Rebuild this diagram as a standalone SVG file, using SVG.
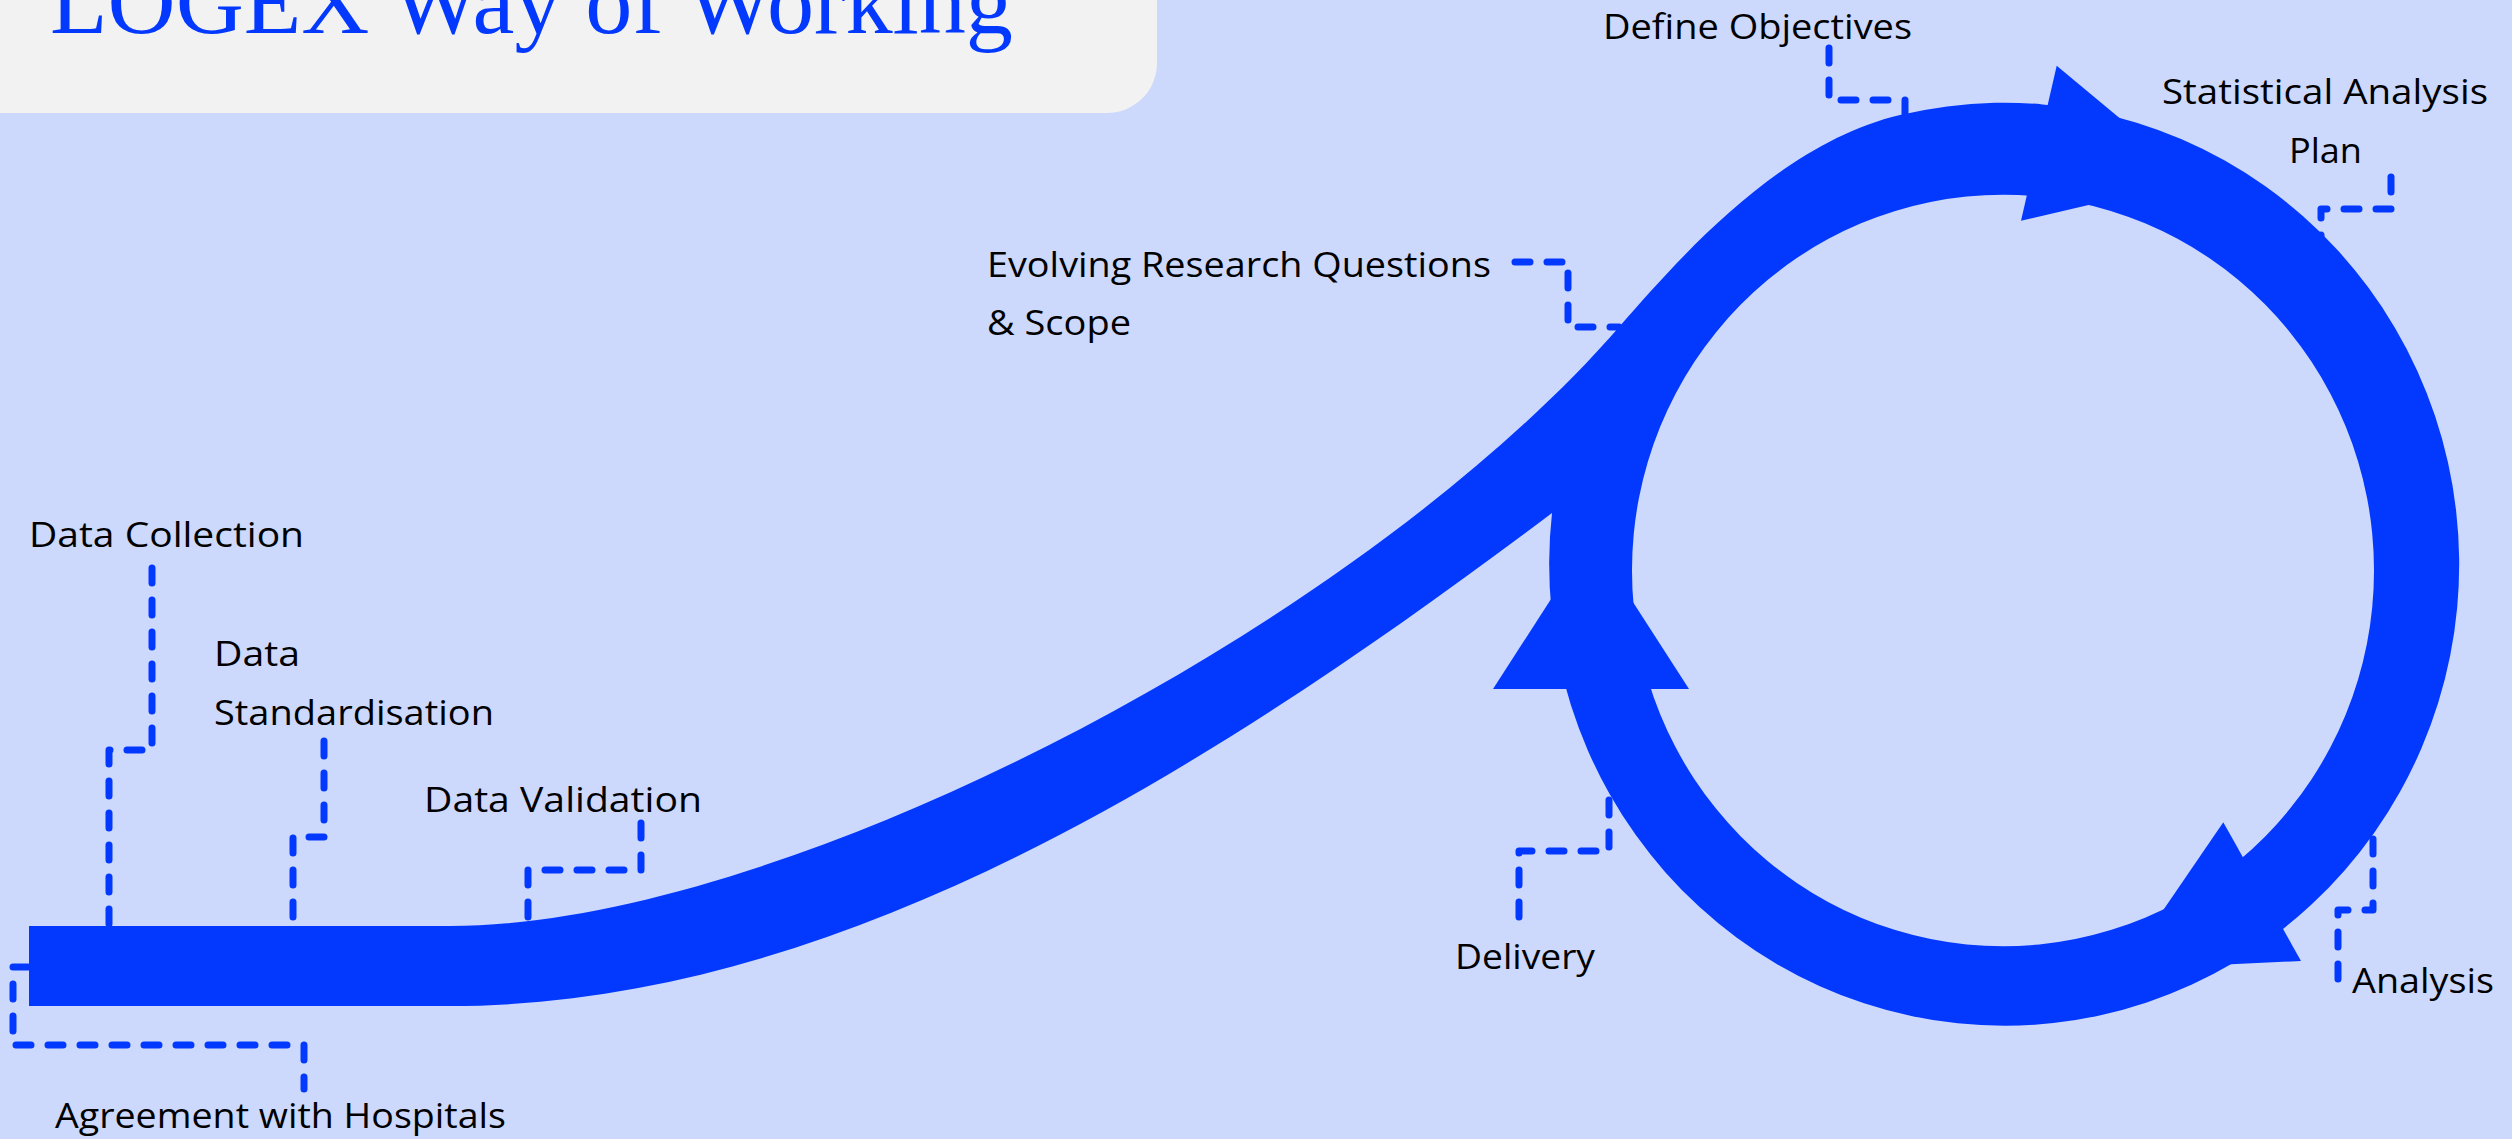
<svg xmlns="http://www.w3.org/2000/svg" width="2512" height="1139" viewBox="0 0 2512 1139">
<style>
.lbl{font-family:"Open Sans","Noto Sans","Liberation Sans",sans-serif;font-size:35px;fill:#000}
.lead{fill:none;stroke:#0339ff;stroke-width:7;stroke-linecap:round;stroke-linejoin:round;stroke-dasharray:15 17}
.flow{fill:#0339ff}
</style>
<rect width="2512" height="1139" fill="#ccd8fc"/>
<g id="title">
<path d="M0,0 H1157 V63 A50,50 0 0 1 1107,113 H0 Z" fill="#f2f2f2"/>
<text x="50" y="33" font-family="'Liberation Serif','Times New Roman',serif" font-size="93" fill="#0339ff" textLength="963" lengthAdjust="spacingAndGlyphs">LOGEX Way of Working</text>
</g>
<g id="flow-arrow">
<path class="flow" fill-rule="evenodd" d="M29,926 H450 C780,926 1357.6,628 1620,326 C1685.6,250.5 1783.2,142.6 1900,115 A455,461.5 0 1 1 1552,513 C1232,753 850,1006 450,1006 H29 Z M1632,570.5 A371,375.5 0 1 0 2374,570.5 A371,375.5 0 1 0 1632,570.5 Z"/>
<polygon class="flow" points="2056.7,65.7 2194.3,180.3 2021,220.7"/>
<polygon class="flow" points="2223.3,822.3 2301,961 2122.6,969.5"/>
<polygon class="flow" points="1493,689 1689,689 1591,537"/>
</g>
<g id="connectors">
<polyline class="lead" points="1829,48 1829,100 1905,100 1905,117"/>
<polyline class="lead" points="2391,177 2391,209 2321,209 2321,247"/>
<polyline class="lead" points="1515,262 1568,262 1568,327 1619,327"/>
<polyline class="lead" points="152,568 152,750 109,750 109,926"/>
<polyline class="lead" points="324,741 324,837 293,837 293,924"/>
<polyline class="lead" points="641,823 641,870 528,870 528,917"/>
<polyline class="lead" points="28,967 13,967 13,1045 304,1045 304,1089"/>
<polyline class="lead" points="1609,800 1609,851 1519,851 1519,920"/>
<polyline class="lead" points="2373,839 2373,910 2338,910 2338,982"/>
</g>
<g id="node-define-objectives"><text class="lbl" x="1603" y="39" textLength="309" lengthAdjust="spacingAndGlyphs">Define Objectives</text></g>
<g id="node-statistical-analysis-plan"><text class="lbl" x="2162" y="104" textLength="326" lengthAdjust="spacingAndGlyphs">Statistical Analysis</text><text class="lbl" x="2289" y="163" textLength="73" lengthAdjust="spacingAndGlyphs">Plan</text></g>
<g id="node-evolving-research"><text class="lbl" x="987" y="277" textLength="504" lengthAdjust="spacingAndGlyphs">Evolving Research Questions</text><text class="lbl" x="987" y="335" textLength="144" lengthAdjust="spacingAndGlyphs">&amp; Scope</text></g>
<g id="node-data-collection"><text class="lbl" x="29" y="547" textLength="275" lengthAdjust="spacingAndGlyphs">Data Collection</text></g>
<g id="node-data-standardisation"><text class="lbl" x="214" y="666" textLength="86" lengthAdjust="spacingAndGlyphs">Data</text><text class="lbl" x="214" y="725" textLength="280" lengthAdjust="spacingAndGlyphs">Standardisation</text></g>
<g id="node-data-validation"><text class="lbl" x="424" y="812" textLength="278" lengthAdjust="spacingAndGlyphs">Data Validation</text></g>
<g id="node-agreement"><text class="lbl" x="55" y="1128" textLength="451" lengthAdjust="spacingAndGlyphs">Agreement with Hospitals</text></g>
<g id="node-delivery"><text class="lbl" x="1455" y="969" textLength="140" lengthAdjust="spacingAndGlyphs">Delivery</text></g>
<g id="node-analysis"><text class="lbl" x="2352" y="993" textLength="142" lengthAdjust="spacingAndGlyphs">Analysis</text></g>
</svg>
